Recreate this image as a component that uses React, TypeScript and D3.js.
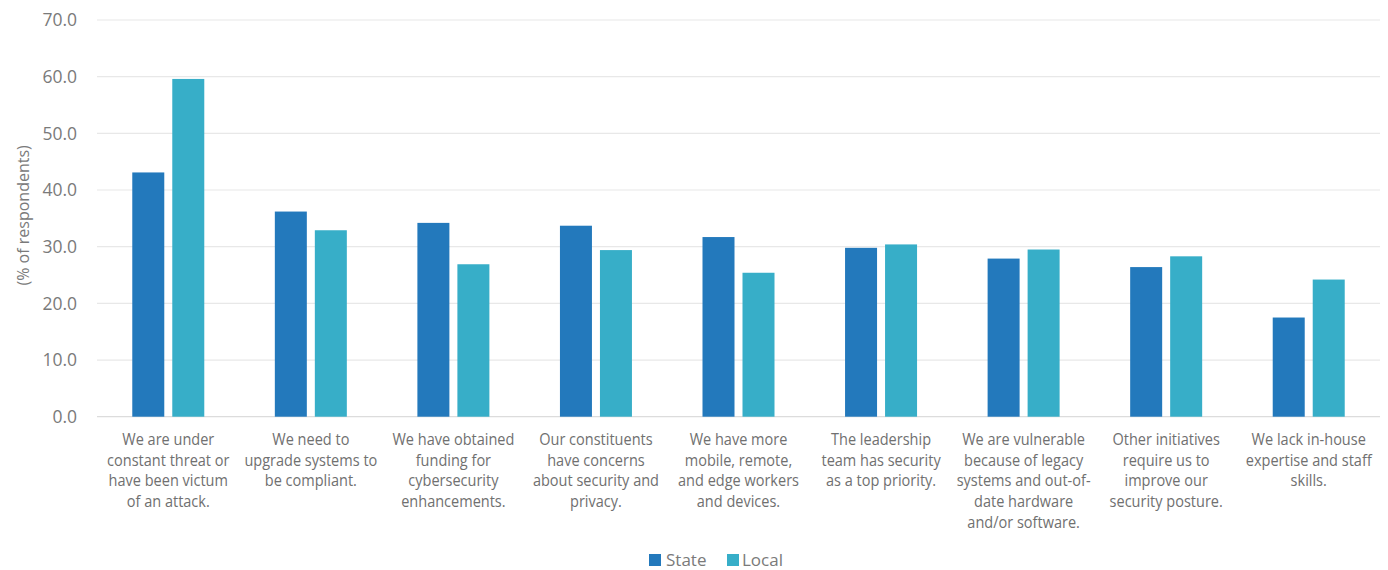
import React from "react";
import * as d3 from "d3";

const categories: string[] = [
  "We are under\nconstant threat or\nhave been victum\nof an attack.",
  "We need to\nupgrade systems to\nbe compliant.",
  "We have obtained\nfunding for\ncybersecurity\nenhancements.",
  "Our constituents\nhave concerns\nabout security and\nprivacy.",
  "We have more\nmobile, remote,\nand edge workers\nand devices.",
  "The leadership\nteam has security\nas a top priority.",
  "We are vulnerable\nbecause of legacy\nsystems and out-of-\ndate hardware\nand/or software.",
  "Other initiatives\nrequire us to\nimprove our\nsecurity posture.",
  "We lack in-house\nexpertise and staff\nskills.",
];

const seriesNames: string[] = ["State", "Local"];
const stateValues: number[] = [43.1, 36.2, 34.2, 33.7, 31.7, 29.8, 27.9, 26.4, 17.5];
const localValues: number[] = [59.6, 32.9, 26.9, 29.4, 25.4, 30.4, 29.5, 28.3, 24.2];
const yTicks: number[] = [0, 10, 20, 30, 40, 50, 60, 70];
const yTitle = "(% of respondents)";

const colors: Record<string, string> = { State: "#2379bc", Local: "#37aec8" };
const FONT = "'Open Sans', sans-serif";

export default function App() {
  const W = 1388;
  const H = 570;
  const x = d3.scaleBand<string>().domain(categories).range([97, 1380]).paddingInner(0).paddingOuter(0);
  const inner = d3.scaleBand<string>().domain(seriesNames).range([0, 72]).paddingInner(0.2);
  const y = d3.scaleLinear().domain([0, 70]).range([416.7, 20]);
  const fmt = d3.format(".1f");
  const values: Record<string, number[]> = { State: stateValues, Local: localValues };

  return (
    <div style={{ position: "fixed", left: 0, top: 0, background: "#fff" }}>
      <svg width={W} height={H} style={{ display: "block", fontFamily: FONT }}>
        <rect x={0} y={0} width={W} height={H} fill="#fff" />
        {yTicks.map((t) => (
          <g key={t}>
            <line x1={97} x2={1380} y1={y(t)} y2={y(t)} stroke={t === 0 ? "#dcdcdc" : "#e8e8e8"} strokeWidth={1.2} />
            <text x={77} y={y(t)} dy="0.36em" textAnchor="end" fontSize={17.5} fill="#7a7a7a">
              {fmt(t)}
            </text>
          </g>
        ))}
        <text
          transform={`translate(23,${y(35) - 3}) rotate(-90) scale(0.97,1)`}
          textAnchor="middle"
          dy="0.35em"
          fontSize={16.5}
          fill="#7a7a7a"
        >
          {yTitle}
        </text>
        {categories.map((c, i) => {
          const cx = (x(c) as number) + x.bandwidth() / 2;
          const x0 = cx - 36;
          return (
            <g key={c}>
              {seriesNames.map((s) => (
                <rect
                  key={s}
                  x={x0 + (inner(s) as number)}
                  y={y(values[s][i])}
                  width={inner.bandwidth()}
                  height={y(0) - y(values[s][i])}
                  fill={colors[s]}
                />
              ))}
              <text
                transform={`translate(${cx},0) scale(0.88,1)`}
                textAnchor="middle"
                fontSize={16.5}
                fill="#707070"
              >
                {c.split("\n").map((line, j) => (
                  <tspan key={j} x={0} y={445 + j * 20.7}>
                    {line}
                  </tspan>
                ))}
              </text>
            </g>
          );
        })}
        <g>
          <rect x={649} y={554} width={12} height={12} fill={colors.State} />
          <text x={666} y={560} dy="0.36em" fontSize={17} fill="#7a7a7a">State</text>
          <rect x={727} y={554} width={12} height={12} fill={colors.Local} />
          <text x={742} y={560} dy="0.36em" fontSize={17} fill="#7a7a7a">Local</text>
        </g>
      </svg>
    </div>
  );
}
